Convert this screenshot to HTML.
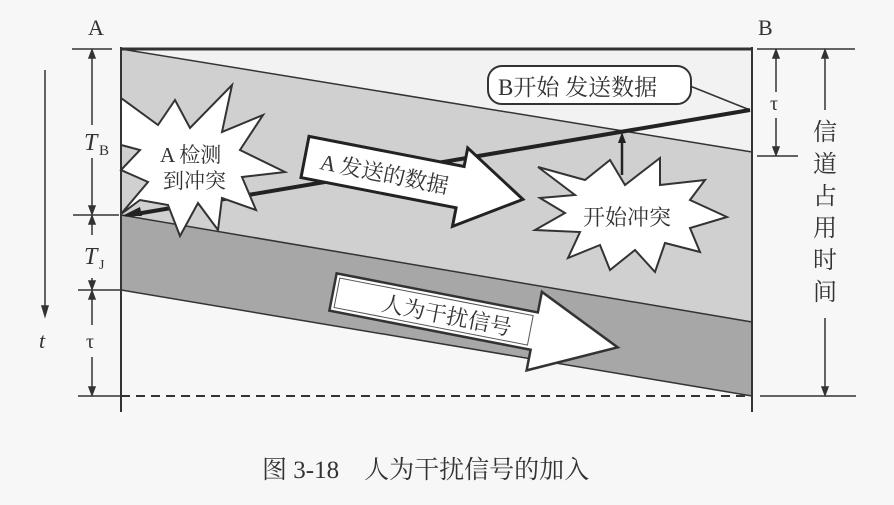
<!DOCTYPE html>
<html><head><meta charset="utf-8"><style>
html,body{margin:0;padding:0;background:#fff;}
svg{display:block;}
text{font-family:"Liberation Serif","Noto Serif CJK SC","Noto Sans CJK SC",serif;fill:#333;}
</style></head><body>
<svg width="894" height="505" viewBox="0 0 894 505" xmlns="http://www.w3.org/2000/svg">
<rect width="894" height="505" fill="#f7f7f7"/>
<polygon points="121,49 752,49 752,152" fill="#f2f2f2"/>
<polygon points="121,49 752,152 752,322 121,215" fill="#d0d0d0"/>
<polygon points="121,215 752,322 752,396 121,290" fill="#a7a7a7"/>
<line x1="121" y1="49" x2="752" y2="49" stroke="#333" stroke-width="3"/>
<line x1="121" y1="49" x2="752" y2="152" stroke="#333" stroke-width="1.5"/>
<line x1="121" y1="215" x2="752" y2="322" stroke="#333" stroke-width="1.5"/>
<line x1="121" y1="290" x2="752" y2="396" stroke="#333" stroke-width="1.5"/>
<line x1="121" y1="47" x2="121" y2="412" stroke="#333" stroke-width="2"/>
<line x1="752" y1="47" x2="752" y2="412" stroke="#333" stroke-width="2"/>
<line x1="121" y1="396" x2="752" y2="396" stroke="#333" stroke-width="2" stroke-dasharray="9,6"/>
<g stroke="#333" stroke-width="1.5" fill="#333">
<line x1="72" y1="49" x2="112" y2="49"/>
<line x1="73" y1="215" x2="119" y2="215"/>
<line x1="78" y1="290" x2="120" y2="290"/>
<line x1="78" y1="396" x2="120" y2="396"/>
<line x1="92" y1="52" x2="92" y2="125"/><line x1="92" y1="158" x2="92" y2="212"/>
<line x1="92" y1="218" x2="92" y2="235"/><line x1="92" y1="278" x2="92" y2="287"/>
<line x1="92" y1="293" x2="92" y2="325"/><line x1="92" y1="357" x2="92" y2="393"/>
<polygon points="92,50 89,58 95,58"/><polygon points="92,214 89,206 95,206"/>
<polygon points="92,216 89,224 95,224"/><polygon points="92,289 89,281 95,281"/>
<polygon points="92,291 89,299 95,299"/><polygon points="92,395 89,387 95,387"/>
<line x1="45" y1="70" x2="45" y2="310"/><polygon points="45,316 42,306 48,306"/>
<line x1="757" y1="49" x2="855" y2="49"/>
<line x1="757" y1="156" x2="798" y2="156"/>
<line x1="760" y1="396" x2="856" y2="396"/>
<line x1="776" y1="52" x2="776" y2="92"/><line x1="776" y1="118" x2="776" y2="153"/>
<polygon points="776,50 773,58 779,58"/><polygon points="776,155 773,147 779,147"/>
<line x1="825" y1="52" x2="825" y2="110"/><line x1="825" y1="318" x2="825" y2="393"/>
<polygon points="825,50 822,58 828,58"/><polygon points="825,395 822,387 828,387"/>
</g>
<text x="88" y="35" font-size="22">A</text>
<text x="758" y="35" font-size="22">B</text>
<text x="84" y="150" font-size="24" font-style="italic">T</text><text x="99" y="155" font-size="15">B</text>
<text x="84" y="264" font-size="24" font-style="italic">T</text><text x="99" y="269" font-size="14">J</text>
<text x="86" y="348" font-size="20">τ</text>
<text x="39" y="348" font-size="22" font-style="italic">t</text>
<text x="770" y="110" font-size="20">τ</text>
<g font-size="24" text-anchor="middle"><text x="825" y="140">信</text><text x="825" y="172">道</text><text x="825" y="204">占</text><text x="825" y="236">用</text><text x="825" y="268">时</text><text x="825" y="300">间</text></g>
<line x1="690" y1="86" x2="750" y2="110" stroke="#333" stroke-width="1.5"/>
<rect x="488" y="66" width="203" height="38" rx="14" fill="#fff" stroke="#333" stroke-width="2"/>
<text x="498" y="95" font-size="23">B开始 发送数据</text>
<line x1="750" y1="110" x2="130" y2="215" stroke="#222" stroke-width="4"/>
<polygon points="122,216 140,207 142,216" fill="#222"/>
<polygon points="121,98 158,125 175,100 190,128 232,85 222,132 263,115 240,150 285,172 242,177 256,210 222,198 218,230 198,203 180,236 168,205 140,200 121,214 148,182 121,170 140,150 121,145" fill="#fff" stroke="#333" stroke-width="2"/>
<text x="160" y="162" font-size="21">A 检测</text>
<text x="163" y="188" font-size="21">到冲突</text>
<g transform="translate(305,157) rotate(11)">
<polygon points="0,-21 158,-21 158,-40 222,0 158,40 158,21 0,21" fill="#fff" stroke="#222" stroke-width="3"/>
<text x="16" y="9" font-size="22">A 发送的数据</text>
</g>
<line x1="622" y1="175" x2="622" y2="140" stroke="#222" stroke-width="2.5"/>
<polygon points="622,132 618,143 626,143" fill="#222"/>
<polygon points="538,167 585,180 610,160 625,185 660,158 660,185 705,180 690,200 727,217 690,228 700,252 665,243 655,272 635,250 610,270 600,245 568,258 580,232 535,230 565,213 540,198 575,195" fill="#fff" stroke="#333" stroke-width="2"/>
<text x="583" y="225" font-size="22">开始冲突</text>
<g transform="translate(333,292) rotate(11)">
<polygon points="0,-19 205,-19 205,-40 290,0 205,40 205,19 0,19" fill="#fff" stroke="#333" stroke-width="2.5"/>
<polygon points="4,-15 201,-15 201,15 4,15" fill="none" stroke="#555" stroke-width="1"/>
<text x="50" y="9" font-size="22">人为干扰信号</text>
</g>
<text x="262" y="478" font-size="25">图 3-18　人为干扰信号的加入</text>
</svg>
</body></html>
